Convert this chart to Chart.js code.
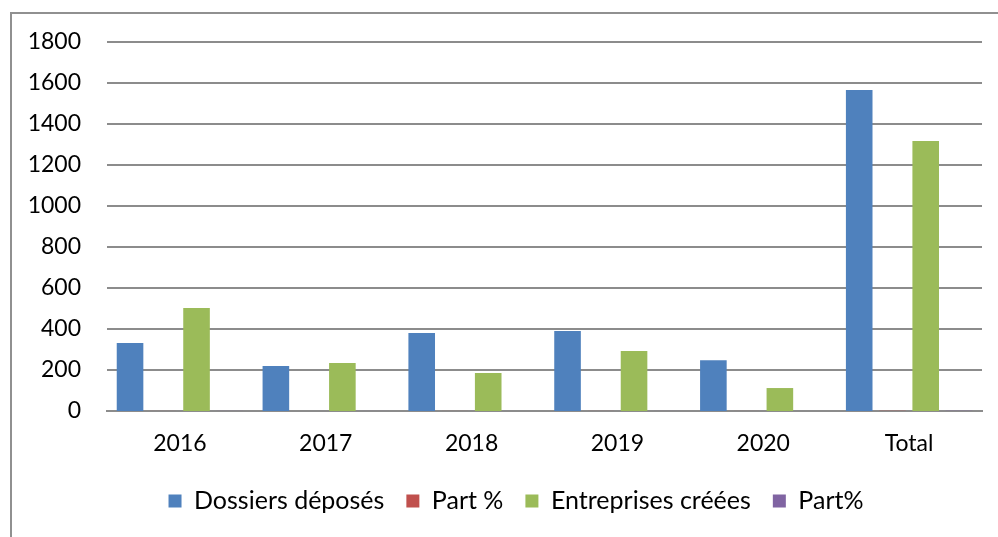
<!DOCTYPE html>
<html>
<head>
<meta charset="utf-8">
<script src="https://cdn.jsdelivr.net/npm/chart.js@4/dist/chart.umd.min.js"></script>
<style>
  html, body { margin: 0; padding: 0; background: #fff; overflow: hidden; }
  #frame {
    position: absolute; left: 10px; top: 12px;
    width: 1200px; height: 800px;
    border-left: 2px solid #909090; border-top: 2px solid #909090;
  }
  #wrap { position: absolute; left: 0; top: 0; width: 998px; height: 537px; }
</style>
</head>
<body>
<div id="frame"></div>
<div id="wrap"><canvas id="chart" width="998" height="537"></canvas></div>
<script>
// Chart data
const years = ['2016', '2017', '2018', '2019', '2020', 'Total'];
const dossiers = [332, 220, 380, 390, 248, 1566];
const partDossiers = [0.21, 0.14, 0.24, 0.25, 0.16, 1];
const entreprises = [502, 234, 185, 293, 112, 1317];
const partEntreprises = [0.38, 0.18, 0.14, 0.22, 0.08, 1];
const yTicks = [0, 200, 400, 600, 800, 1000, 1200, 1400, 1600, 1800];

const FONT = 'Lato, "Open Sans", sans-serif';
const GRID = '#8c8c8c';

// legend sits a little right of the canvas centre, like in Excel
const legendShift = {
  id: 'legendShift',
  afterLayout(chart) {
    const lg = chart.legend;
    if (lg) lg.left += 50;
  }
};

const ctx = document.getElementById('chart');

new Chart(ctx, {
  type: 'bar',
  data: {
    labels: years,
    datasets: [
      { label: 'Dossiers déposés', data: dossiers, backgroundColor: '#4F81BD' },
      { label: 'Part %', data: partDossiers, backgroundColor: '#C0504D' },
      { label: 'Entreprises créées', data: entreprises, backgroundColor: '#9BBB59' },
      { label: 'Part%', data: partEntreprises, backgroundColor: '#8064A2' }
    ]
  },
  options: {
    responsive: false,
    animation: false,
    devicePixelRatio: 1,
    layout: { padding: { left: 0, right: 16, top: 42, bottom: 13.5 } },
    datasets: {
      bar: { categoryPercentage: 0.912, barPercentage: 0.8, inflateAmount: 0 }
    },
    scales: {
      x: {
        grid: { display: false, drawTicks: false },
        // zero line drawn as the x axis border
        border: { display: true, color: GRID, width: 2 },
        ticks: { color: '#000', padding: 19, font: { family: FONT, size: 23 } },
        afterFit: (scale) => { scale.height = 55.5; }
      },
      y: {
        min: 0,
        max: yTicks[yTicks.length - 1],
        afterBuildTicks: (scale) => { scale.ticks = yTicks.map(v => ({ value: v })); },
        grid: {
          color: GRID,
          lineWidth: (c) => (c.tick && c.tick.value === 0 ? 0 : 2),
          drawTicks: false
        },
        border: { display: false },
        ticks: {
          color: '#000',
          padding: 26,
          font: { family: FONT, size: 23 },
          callback: (v) => String(v)
        },
        afterFit: (scale) => { scale.width = 107; }
      }
    },
    plugins: {
      tooltip: { enabled: false },
      legend: {
        position: 'bottom',
        labels: {
          color: '#000',
          boxWidth: 13,
          boxHeight: 13,
          padding: 22,
          font: { family: FONT, size: 25 }
        }
      }
    }
  },
  plugins: [legendShift]
});
</script>
</body>
</html>
